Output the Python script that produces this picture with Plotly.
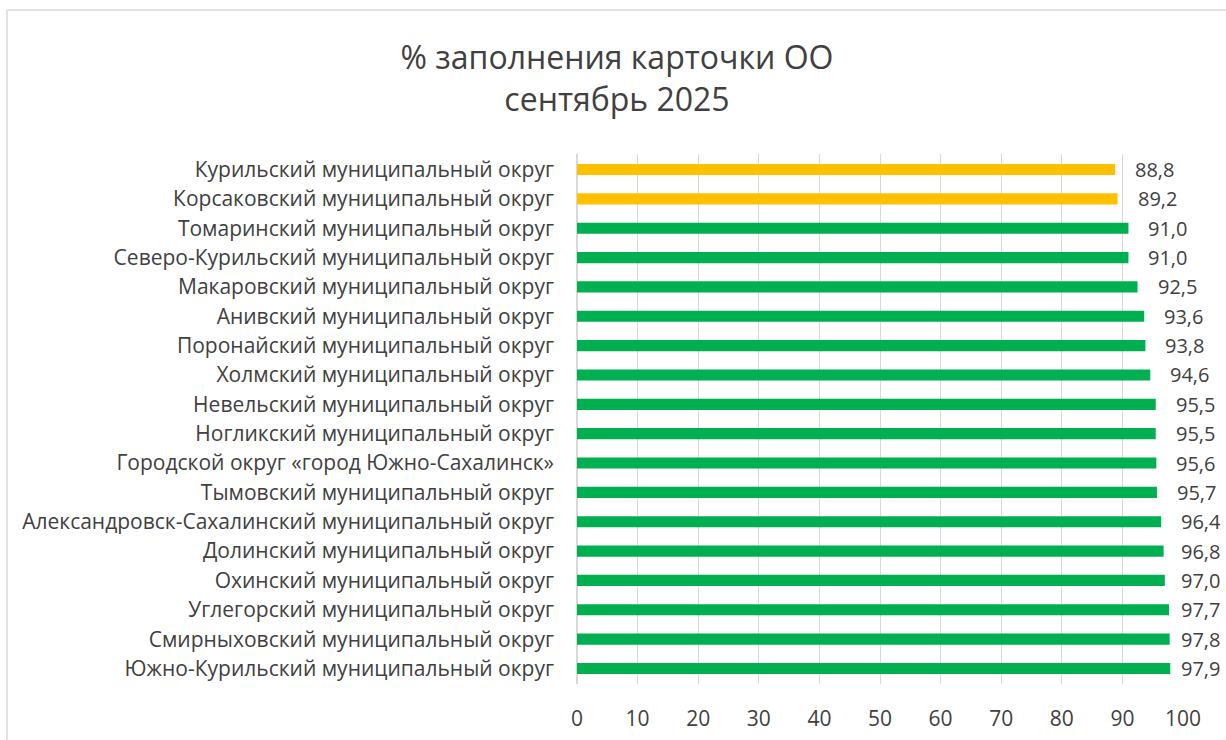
import plotly.graph_objects as go

categories = [
    "Курильский муниципальный округ",
    "Корсаковский муниципальный округ",
    "Томаринский муниципальный округ",
    "Северо-Курильский муниципальный округ",
    "Макаровский муниципальный округ",
    "Анивский муниципальный округ",
    "Поронайский муниципальный округ",
    "Холмский муниципальный округ",
    "Невельский муниципальный округ",
    "Ногликский муниципальный округ",
    "Городской округ «город Южно-Сахалинск»",
    "Тымовский муниципальный округ",
    "Александровск-Сахалинский муниципальный округ",
    "Долинский муниципальный округ",
    "Охинский муниципальный округ",
    "Углегорский муниципальный округ",
    "Смирныховский муниципальный округ",
    "Южно-Курильский муниципальный округ",
]
values = [88.8, 89.2, 91.0, 91.0, 92.5, 93.6, 93.8, 94.6, 95.5, 95.5,
          95.6, 95.7, 96.4, 96.8, 97.0, 97.7, 97.8, 97.9]
x_ticks = [0, 10, 20, 30, 40, 50, 60, 70, 80, 90, 100]

YELLOW = "#FFC000"
GREEN = "#00B050"
colors = [YELLOW if v < 90 else GREEN for v in values]

FONT = "'Open Sans', sans-serif"
TXT = "#404040"
W, H = 1226, 740
L, T = 577, 154
R = W - 1183
B = H - 684
pw = W - L - R
ph = H - T - B
px_per_unit = pw / 100.0

fig = go.Figure(go.Bar(
    y=categories, x=values, orientation="h",
    marker=dict(color=colors, line=dict(width=0)),
    width=0.38,
    cliponaxis=False, hoverinfo="x+y",
))

# data labels: outside end, pulled back to stay inside the chart area
gap_units = 18 / px_per_unit
max_units = (1179 - L) / px_per_unit
for c, v in zip(categories, values):
    fig.add_annotation(x=min(v + gap_units, max_units), y=c, xref="x", yref="y",
                       text=f"{v:.1f}".replace(".", ","), showarrow=False,
                       xanchor="left", yanchor="middle",
                       font=dict(family=FONT, size=20, color=TXT))

fig.update_layout(
    width=W, height=H,
    margin=dict(l=L, r=R, t=T, b=B, autoexpand=False),
    paper_bgcolor="white", plot_bgcolor="white",
    showlegend=False,
    title=dict(text="% заполнения карточки ОО<br>сентябрь 2025",
               x=617 / W, xanchor="center", xref="container",
               y=1 - 69 / H, yanchor="middle", yref="container",
               font=dict(family=FONT, size=32, color=TXT)),
    xaxis=dict(range=[0, 100], tickvals=x_ticks, showgrid=True,
               gridcolor="#D9D9D9", gridwidth=1, zeroline=True,
               zerolinecolor="#D9D9D9", showline=False, ticks="",
               tickfont=dict(family=FONT, size=21, color=TXT),
               ticklabelstandoff=20),
    yaxis=dict(autorange="reversed", showgrid=False, ticks="",
               tickfont=dict(family=FONT, size=21, color=TXT),
               ticklabelstandoff=22),
    bargap=0.6,
)
# chart frame (left and top edges visible)
fig.add_shape(type="line", xref="paper", yref="paper",
              x0=(7 - L) / pw, x1=(W + 5 - L) / pw,
              y0=1 + (T - 10) / ph, y1=1 + (T - 10) / ph,
              line=dict(color="#D9D9D9", width=1.5))
fig.add_shape(type="line", xref="paper", yref="paper",
              x0=(7 - L) / pw, x1=(7 - L) / pw,
              y0=1 + (T - 10) / ph, y1=-(B + 5) / ph,
              line=dict(color="#D9D9D9", width=1.5))

fig.write_html("out.html",
               config={"displayModeBar": False},
               post_script="document.body.style.margin='0';"
                           "document.body.style.overflow='hidden';")
